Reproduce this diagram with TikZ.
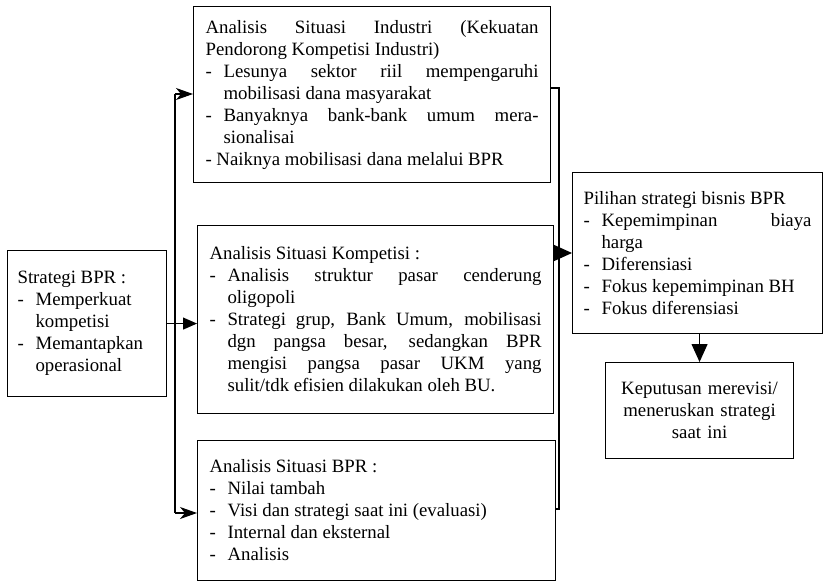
\documentclass[tikz,border=0pt]{standalone}
\usepackage{fontspec}
\setmainfont{Liberation Serif}
\usetikzlibrary{arrows.meta}
\newcommand{\butir}[1]{\par\hangindent=18pt\hangafter=1\noindent\makebox[18pt][l]{-}#1\par}
\tikzset{
  kotak/.style={draw, line width=1.1pt, anchor=north west, align=justify, inner ysep=2pt,
    font=\fontsize{18.8}{22}\selectfont},
  garis/.style={line width=1.1pt},
  panah/.style={garis, -{Stealth[length=17pt,width=12pt,inset=5pt]}},
  panahpenuh/.style={garis, -{Triangle[length=18pt,width=16pt]}}
}
\begin{document}
\begin{tikzpicture}[x=1pt,y=-1pt]
\useasboundingbox (0,0) rectangle (827,582);
\node[kotak, text width=139pt, inner xsep=10pt, minimum height=146pt] (strat) at (7,250)
  {\noindent Strategi BPR :\butir{Memperkuat kompetisi}\butir{Memantapkan operasional}};
\node[kotak, text width=333pt, inner xsep=12pt, minimum height=176pt] (indus) at (193,6)
  {\noindent Analisis Situasi Industri (Kekuatan\linebreak Pendorong Kompetisi Industri)
   \butir{Lesunya sektor riil mempengaruhi\linebreak mobilisasi dana masyarakat}
   \butir{Banyaknya bank-bank umum mera-\linebreak sionalisai}
   \noindent - Naiknya mobilisasi dana melalui BPR};
\node[kotak, text width=332pt, inner xsep=12pt, minimum height=188pt] (kompet) at (197,225)
  {\noindent Analisis Situasi Kompetisi :
   \butir{Analisis struktur pasar cenderung\linebreak oligopoli}
   \butir{Strategi grup, Bank Umum, mobilisasi\linebreak dgn pangsa besar, sedangkan BPR\linebreak
     mengisi pangsa pasar UKM yang\linebreak sulit/tdk efisien dilakukan oleh BU.}};
\node[kotak, text width=334pt, inner xsep=12pt, minimum height=140pt] (sitbpr) at (197,440)
  {\noindent Analisis Situasi BPR :
   \butir{Nilai tambah}
   \butir{Visi dan strategi saat ini (evaluasi)}
   \butir{Internal dan eksternal}
   \butir{Analisis}};
\node[kotak, text width=228pt, inner xsep=11pt, minimum height=161pt] (pilihan) at (572,172)
  {\noindent Pilihan strategi bisnis BPR
   \butir{Kepemimpinan biaya\linebreak harga}
   \butir{Diferensiasi}
   \butir{Fokus kepemimpinan BH}
   \butir{Fokus diferensiasi}};
\node[kotak, align=center, text width=172pt, inner xsep=8pt, minimum height=96pt] (keputusan) at (605,362)
  {Keputusan merevisi/\\ meneruskan strategi\\ saat ini};
\coordinate (kiriatas) at (175,94);
\coordinate (kiribawah) at (175,513);
\coordinate (kananatas) at (559,88);
\coordinate (kananbawah) at (559,509);
\coordinate (kanantengah) at (559,253);
\draw[garis] (kiriatas) -- (kiribawah);
\draw[panah] (kiriatas) -- (kiriatas -| indus.west);
\draw[panah] (kiribawah) -- (kiribawah -| sitbpr.west);
\draw[garis, -{Triangle[length=14pt,width=12pt]}] (strat.east) -- (strat.east -| kompet.west);
\draw[garis] (kananatas -| indus.east) -- (kananatas) -- (kananbawah) -- (kananbawah -| sitbpr.east);
\draw[panahpenuh] (kanantengah) -- (kanantengah -| pilihan.west);
\draw[panahpenuh] (keputusan.north |- pilihan.south) -- (keputusan.north);
\end{tikzpicture}
\end{document}
